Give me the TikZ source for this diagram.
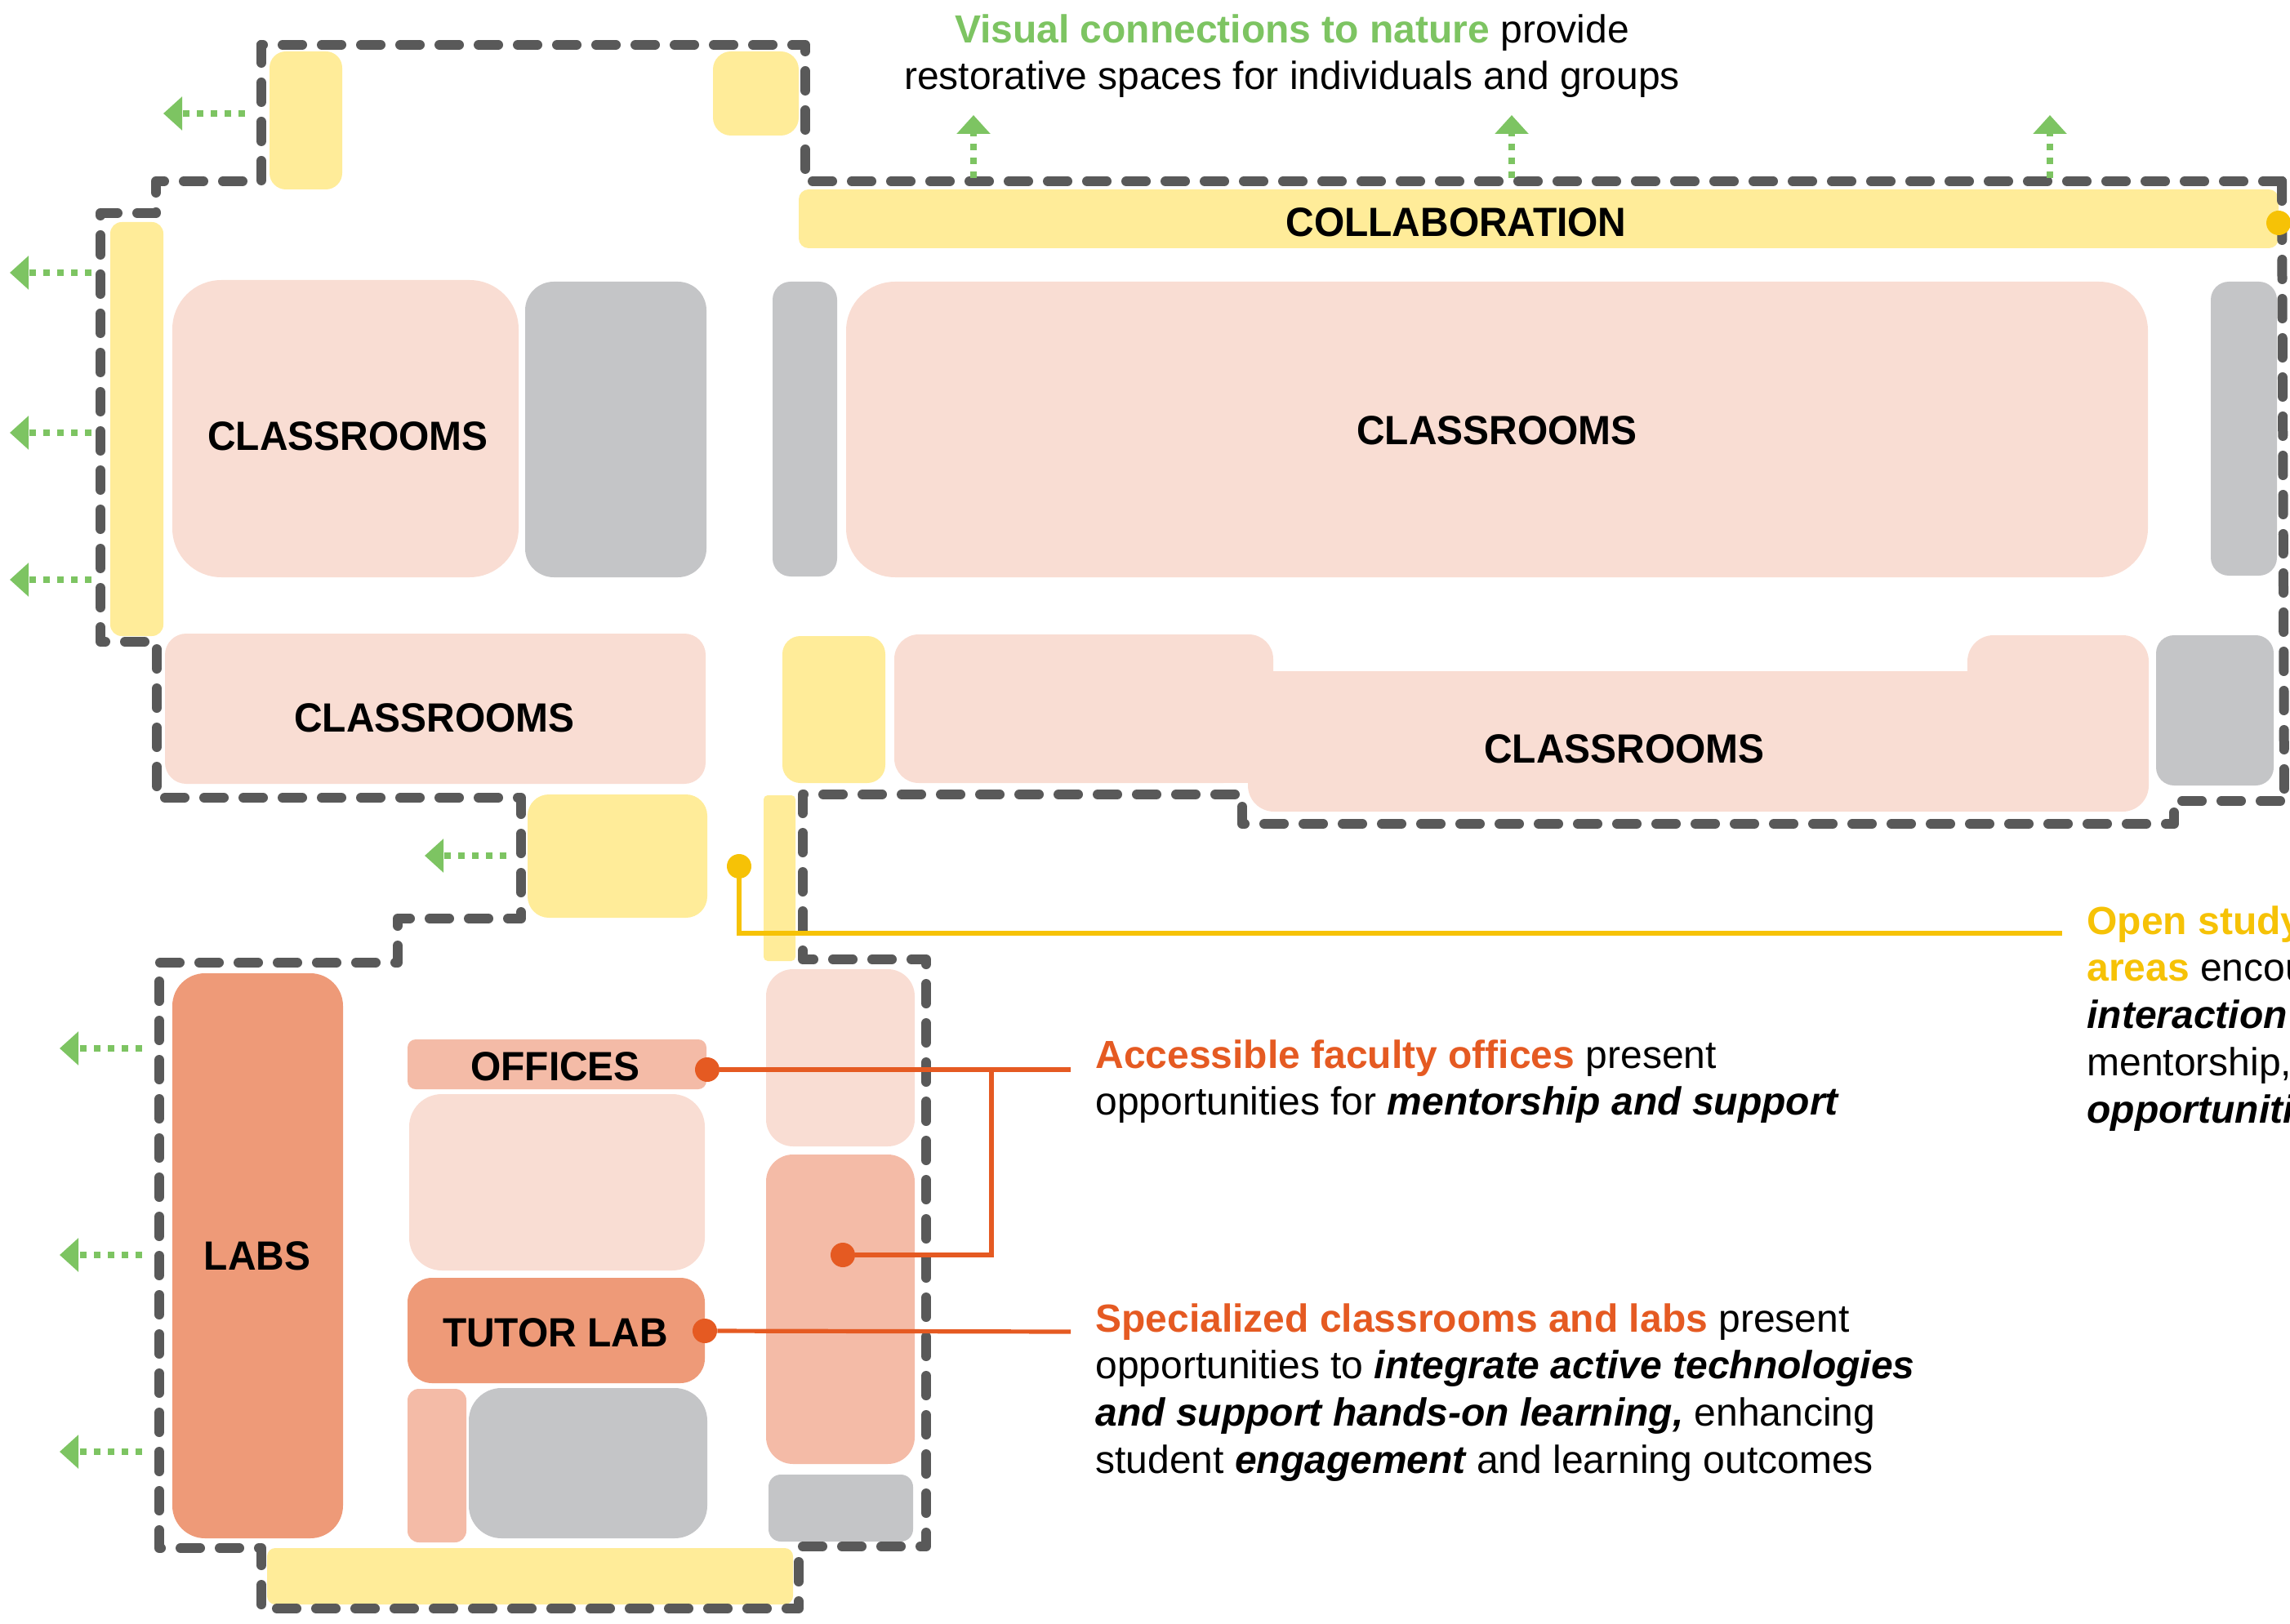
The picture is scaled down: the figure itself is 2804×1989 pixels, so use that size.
\documentclass[tikz,border=0pt]{standalone}
\usepackage{fontspec}
\setmainfont{Liberation Sans}
\newfontfamily\labelfont[FakeStretch=0.958]{Liberation Sans}
\usetikzlibrary{arrows.meta}
\definecolor{cyellow}{HTML}{FFEC99}
\definecolor{cpink}{HTML}{F9DDD3}
\definecolor{cgrey}{HTML}{C4C5C7}
\definecolor{csalmon}{HTML}{F4BBA7}
\definecolor{clab}{HTML}{EE9A78}
\definecolor{cdash}{HTML}{595959}
\definecolor{cgreen}{HTML}{7DC462}
\definecolor{cgold}{HTML}{F6C206}
\definecolor{corange}{HTML}{E55A22}
\tikzset{
  boundary/.style={draw=cdash,line width=6pt,line cap=round,line join=round,dash pattern=on 12pt off 12pt},
  view/.style={draw=cgreen,line width=3.8pt,dash pattern=on 4.1pt off 4.4pt,-{Triangle[length=11.5pt,width=20pt,fill=cgreen]}},
  label/.style={inner sep=0pt,font=\labelfont\fontsize{25}{29}\selectfont\bfseries,text=black},
  body/.style={inner sep=0pt,anchor=north west,align=left,font=\fontsize{24}{28.9}\selectfont,text=black},
  bodyc/.style={body,anchor=north,align=center},
  golddot/.style={circle,fill=cgold,inner sep=0pt,minimum size=15pt},
  orangedot/.style={circle,fill=corange,inner sep=0pt,minimum size=15pt},
  goldline/.style={draw=cgold,line width=3pt},
  orangeline/.style={draw=corange,line width=2.6pt},
}
\newcommand{\rbox}[6]{\fill[#1,rounded corners=#6*0.5pt] (#2,#3) rectangle (#4,#5);}
\newcommand{\hlgreen}[1]{\textcolor{cgreen}{\bfseries #1}}
\newcommand{\hlgold}[1]{\textcolor{cgold}{\bfseries #1}}
\newcommand{\hlorange}[1]{\textcolor{corange}{\bfseries #1}}
\newcommand{\bi}[1]{{\bfseries\itshape #1}}
\begin{document}
\begin{tikzpicture}[x=0.5pt,y=-0.5pt]
\useasboundingbox (0,0) rectangle (2804,1989);
% yellow
\rbox{cyellow}{330}{63}{419}{232}{20}
\rbox{cyellow}{873}{63}{978}{166}{22}
\rbox{cyellow}{135}{272}{200}{779}{14}
\rbox{cyellow}{978}{232}{2790}{304}{12}
\rbox{cyellow}{958}{779}{1084}{959}{22}
\rbox{cyellow}{646}{973}{866}{1124}{26}
\rbox{cyellow}{935}{974}{974}{1177}{5}
\rbox{cyellow}{327}{1896}{971}{1965}{10}
% pink classrooms
\rbox{cpink}{211}{343}{635}{707}{60}
\rbox{cpink}{1036}{345}{2630}{707}{60}
\rbox{cpink}{202}{776}{864}{960}{26}
\fill[cpink,rounded corners=15pt] (1095,777) -- (1559,777) -- (1559,870) -- (1528,870) -- (1528,959) -- (1095,959) -- cycle;
\fill[cpink,rounded corners=16pt] (1528,900) -- (1528,994) -- (2631,994) -- (2631,778) -- (2409,778) -- (2409,900) -- cycle;
\fill[cpink] (1559,822) rectangle (2409,959);
\fill[cpink] (1528,900) rectangle (1600,959);
\fill[cpink] (1500,822) rectangle (1559,959);
\rbox{cpink}{501}{1340}{863}{1556}{40}
\rbox{cpink}{938}{1187}{1120}{1404}{33}
% greys
\rbox{cgrey}{643}{345}{865}{707}{35}
\rbox{cgrey}{946}{345}{1025}{706}{22}
\rbox{cgrey}{2707}{345}{2788}{705}{22}
\rbox{cgrey}{2640}{778}{2784}{962}{22}
\rbox{cgrey}{574}{1700}{866}{1884}{40}
\rbox{cgrey}{941}{1806}{1118}{1888}{15}
% salmon
\rbox{clab}{211}{1192}{420}{1884}{40}
\rbox{csalmon}{499}{1273}{865}{1334}{10}
\rbox{clab}{499}{1565}{863}{1694}{30}
\rbox{csalmon}{499}{1701}{571}{1889}{14}
\rbox{csalmon}{938}{1414}{1120}{1793}{33}
% boundary
\draw[boundary,dash phase=11pt] (320,55) -- (986,55) -- (986,222) -- (2794,222);
\draw[boundary] (2794,222) -- (2797,981);
\draw[boundary,dash phase=21.5pt] (2797,981) -- (2662,981) -- (2662,1009) -- (1521,1009) -- (1521,973) -- (983,973) -- (983,1175) -- (1134,1175) -- (1134,1894) -- (978,1894) -- (978,1970) -- (320,1970) -- (320,1896) -- (195,1896) -- (195,1179) -- (487,1179) -- (487,1125) -- (638,1125) -- (638,977) -- (192,977) -- (192,786) -- (123,786) -- (123,261) -- (191,261) -- (191,222) -- (320,222) -- (320,55);
% view arrows
\foreach \n/\sx/\sy/\tx/\ty in {l1/112/334/12/334,l2/112/530/12/530,l3/112/710/12/710,t/300/139/200/139,c/620/1048/520/1048,b1/174/1284/73/1284,b2/174/1537/73/1537,b3/174/1778/73/1778,u1/1192/218/1192/141,u2/1851/218/1851/141,u3/2510/218/2510/141}{
  \coordinate (\n s) at (\sx,\sy);
  \coordinate (\n t) at (\tx,\ty);
  \draw[view] (\n s) -- (\n t);
}
% labels
\node[label] (cl1) at (426,534) {CLASSROOMS};
\node[label] (cl2) at (1833,527) {CLASSROOMS};
\node[label] (cl3) at (532,879) {CLASSROOMS};
\node[label] (cl4) at (1989,917) {CLASSROOMS};
\node[label] (collab) at (1783,272) {COLLABORATION};
\node[label] (labs) at (315,1538) {LABS};
\node[label] (offices) at (680,1306) {OFFICES};
\node[label] (tutor) at (680,1632) {TUTOR LAB};
% connectors
\node[golddot] (dotA) at (2790,273) {};
\node[golddot] (dotB) at (905,1061) {};
\coordinate (goldbend) at (905,1143);
\coordinate (goldend) at (2525,1143);
\draw[goldline] (dotB) -- (goldbend) -- (goldend);
\node[orangedot] (dotO) at (866,1310) {};
\node[orangedot] (dotR) at (1032,1537) {};
\node[orangedot] (dotT) at (863,1630) {};
\coordinate (oEnd) at (1311,1310);
\coordinate (oBranch) at (1214,1310);
\coordinate (oBend) at (1214,1537);
\coordinate (tEnd) at (1311,1631);
\draw[orangeline] (dotO) -- (oEnd);
\draw[orangeline] (oBranch) -- (oBend) -- (dotR);
\draw[orangeline] (dotT) -- (tEnd);
% text blocks
\node[bodyc] (tNature) at (1582,17) {\hlgreen{Visual connections to nature} provide\\restorative spaces for individuals and groups};
\node[body] (tOpen) at (2555,1109) {\hlgold{Open study}\\\hlgold{areas} encou\\\bi{interaction}\\mentorship,\\\bi{opportuniti}};
\node[body] (tFac) at (1341,1273) {\hlorange{Accessible faculty offices} present\\opportunities for \bi{mentorship and support}};
\node[body] (tSpec) at (1341,1596) {\hlorange{Specialized classrooms and labs} present\\opportunities to \bi{integrate active technologies}\\\bi{and support hands-on learning,} enhancing\\student \bi{engagement} and learning outcomes};
\end{tikzpicture}
\end{document}
